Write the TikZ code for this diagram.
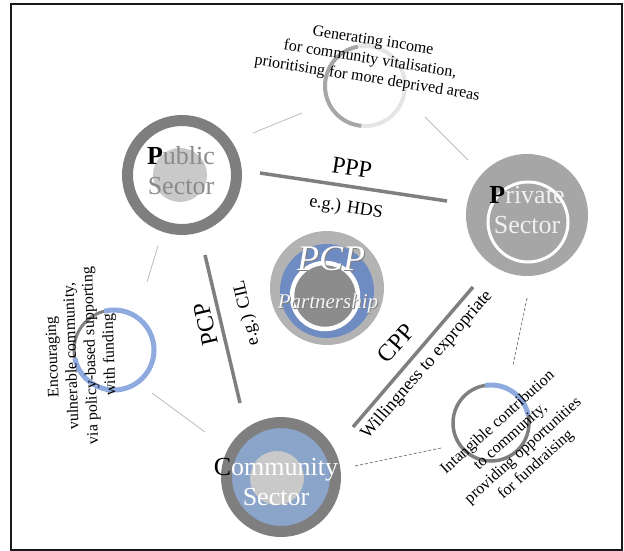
\documentclass[tikz,border=0pt]{standalone}
\usepackage{fontspec}
\setmainfont{Liberation Serif}
\definecolor{ringgray}{HTML}{7F7F7F}
\definecolor{lightdisc}{HTML}{C9C9C9}
\definecolor{privgray}{HTML}{A6A6A6}
\definecolor{pcpouter}{HTML}{B3B3B3}
\definecolor{pcpblue}{HTML}{6E8BC2}
\definecolor{pcpinner}{HTML}{8C8C8C}
\definecolor{comblue}{HTML}{8BA4C9}
\definecolor{arcblue}{HTML}{8EAADF}
\definecolor{linkgray}{HTML}{BBBBBB}
\definecolor{pubtext}{HTML}{8A8A8A}
\begin{document}
\begin{tikzpicture}[x=1pt,y=1pt,
  sector/.style={font=\fontsize{26}{30}\selectfont, align=center, inner sep=0},
  bigring/.style={circle, draw=ringgray, line width=11, inner sep=0, outer sep=0, minimum size=109},
  rel/.style={draw=ringgray, line width=3.5},
  rellabel/.style={font=\fontsize{24}{28}\selectfont, inner sep=0},
  exlabel/.style={font=\fontsize{18}{22}\selectfont, inner sep=0},
  note/.style={font=\fontsize{16}{19}\selectfont, align=center, inner sep=0},
  smallc/.style={circle, inner sep=0, outer sep=0},
  link/.style={draw=linkgray, line width=0.8},
  dlink/.style={draw=ringgray, line width=0.8, dash pattern=on 3pt off 2pt}]
\useasboundingbox (0,0) rectangle (624,-551);
\draw[line width=1.6, black!90] (11,-4) rectangle (622,-550);

% thin connectors
\coordinate (l1a) at (253,-133); \coordinate (l1b) at (302,-113);
\coordinate (l2a) at (425,-117); \coordinate (l2b) at (468,-160);
\coordinate (l3a) at (158,-246); \coordinate (l3b) at (147,-282);
\coordinate (l4a) at (152,-393); \coordinate (l4b) at (205,-432);
\coordinate (l5a) at (355,-466); \coordinate (l5b) at (441,-448);
\coordinate (l6a) at (527,-298); \coordinate (l6b) at (513,-365);
\draw[link] (l1a) -- (l1b);
\draw[link] (l2a) -- (l2b);
\draw[link] (l3a) -- (l3b);
\draw[link] (l4a) -- (l4b);
\draw[dlink] (l5a) -- (l5b);
\draw[dlink] (l6a) -- (l6b);

% Public sector
\node[bigring, fill=white] (pub) at (182,-175) {};
\fill[lightdisc] (180,-175) circle (27);
\node[sector, text=pubtext] (pubtxt) at (181,-171) {\textcolor{black}{\textbf{P}}ublic\\Sector};

% Private sector
\node[circle, fill=privgray, inner sep=0, minimum size=122] (priv) at (527,-215) {};
\draw[white, line width=3] (528,-222) circle (40);
\node[sector, text=white!88!gray] (privtxt) at (527,-210) {\textcolor{black}{\textbf{P}}rivate\\Sector};

% PCP partnership
\node[circle, fill=pcpouter, inner sep=0, minimum size=114] (pcp) at (327,-288) {};
\fill[pcpblue] (327,-291) circle (47);
\fill[pcpinner] (325,-296) circle (31);
\draw[white, line width=4.5] (325,-296) circle (33);
\node[inner sep=0, anchor=base, font=\fontsize{36}{36}\selectfont\itshape, text=gray] (pcpshadow) at (332,-271) {PCP};
\node[inner sep=0, anchor=base, font=\fontsize{36}{36}\selectfont\itshape, text=white] (pcptitle) at (331,-270) {PCP};
\node[inner sep=0, anchor=base, font=\fontsize{21}{21}\selectfont\itshape, text=gray] (pcpsubshadow) at (329,-309) {Partnership};
\node[inner sep=0, anchor=base, font=\fontsize{21}{21}\selectfont\itshape, text=white!92!gray] (pcpsub) at (328,-308) {Partnership};

% Community sector
\node[bigring, fill=comblue] (com) at (281,-477) {};
\fill[lightdisc] (277,-478) circle (27);
\node[sector, text=white] (comtxt) at (276,-482) {\textcolor{black}{C}ommunity\\Sector};

% relations
\coordinate (pppA) at (260,-173); \coordinate (pppB) at (447,-201);
\coordinate (pcpA) at (205,-255); \coordinate (pcpB) at (240,-403);
\coordinate (cppA) at (473,-287); \coordinate (cppB) at (353,-427);
\draw[rel] (pppA) -- (pppB);
\draw[rel] (pcpA) -- (pcpB);
\draw[rel] (cppA) -- (cppB);
\node[rellabel, rotate=-8.5] (ppplbl) at (352,-168) {PPP};
\node[exlabel, rotate=-8.5] (hds) at (346,-208) {e.g.) HDS};
\node[rellabel, rotate=103] (pcplbl) at (206,-324) {PCP};
\node[exlabel, rotate=103] (cil) at (247,-313) {e.g.) CIL};
\node[rellabel, rotate=49] (cpplbl) at (396,-343) {CPP};
\node[exlabel, rotate=49] (will) at (427,-365) {Willingness to expropriate};

% small circles
\node[smallc, minimum size=80] (topc) at (365,-86) {};
\draw[draw=black!35, line width=4] ([shift={(100:40)}]topc.center) arc[start angle=100, end angle=265, radius=40];
\draw[draw=black!10, line width=4] ([shift={(265:40)}]topc.center) arc[start angle=265, end angle=460, radius=40];

\node[smallc, minimum size=80] (leftc) at (114,-350) {};
\draw[draw=ringgray, line width=3] ([shift={(104:40)}]leftc.center) arc[start angle=104, end angle=192, radius=40];
\draw[draw=arcblue, line width=5] ([shift={(192:40)}]leftc.center) arc[start angle=192, end angle=464, radius=40];

\node[smallc, minimum size=76] (rbc) at (491,-423) {};
\draw[draw=ringgray, line width=3.5] (rbc.center) circle (38);
\draw[draw=arcblue, line width=5] ([shift={(12:38)}]rbc.center) arc[start angle=12, end angle=99, radius=38];

% notes
\node[note, rotate=-9] (toptxt) at (370,-60) {Generating income\\for community vitalisation,\\prioritising for more deprived areas};
\node[note, rotate=92] (lefttxt) at (82,-356) {Encouraging\\vulnerable community,\\via policy-based supporting\\with funding};
\node[note, rotate=42] (rbtxt) at (517,-444) {Intangible contribution\\to community,\\providing opportunities\\for fundraising};
\end{tikzpicture}
\end{document}
